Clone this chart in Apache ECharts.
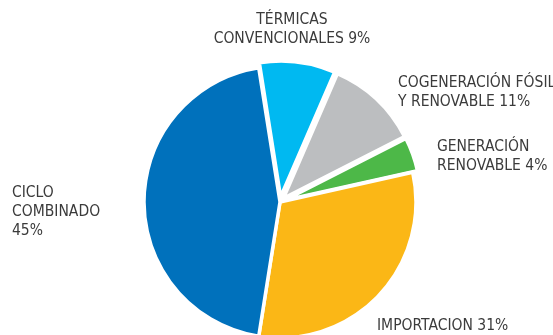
<!DOCTYPE html>
<html><head><meta charset="utf-8">
<script src="https://cdn.jsdelivr.net/npm/echarts@6/dist/echarts.min.js"></script>
<style>html,body{margin:0;padding:0;background:#fff}#c{width:553px;height:335px}</style>
</head><body><div id="c"></div>
<script>
const categories = ['TÉRMICAS\nCONVENCIONALES', 'COGENERACIÓN FÓSIL\nY RENOVABLE', 'GENERACIÓN\nRENOVABLE', 'IMPORTACION', 'CICLO\nCOMBINADO'];
const values = [9, 11, 4, 31, 45];
const colors = ['#00B9F1', '#BCBEC0', '#4DB848', '#FBB716', '#0071BC'];
const exploded = [true, true, true, false, false];
const labelSep = [' ', ' ', ' ', ' ', '\n'];
const labelPos = [
  {x: 292, y: 10, align: 'center'},
  {x: 398, y: 73, align: 'left'},
  {x: 437, y: 137, align: 'left'},
  {x: 377, y: 316, align: 'left'},
  {x: 12, y: 183, align: 'left'}
];
const base = {
  type: 'pie',
  center: [280, 202],
  radius: 136,
  startAngle: 99,
  clockwise: true,
  emphasis: {disabled: true},
  labelLine: {show: false}
};
const chart = echarts.init(document.getElementById('c'));
chart.setOption({
  animation: false,
  series: [
    Object.assign({}, base, {
      selectedMode: 'multiple',
      selectedOffset: 5,
      data: categories.map((n, i) => ({
        name: n, value: values[i], selected: exploded[i],
        itemStyle: {color: colors[i]},
        select: {itemStyle: {color: colors[i], borderColor: '#fff', borderWidth: 3.5}}
      })),
      itemStyle: {borderColor: '#fff', borderWidth: 3.5},
      label: {show: false}
    }),
    Object.assign({}, base, {
      silent: true,
      z: 3,
      data: categories.map((n, i) => ({name: n, value: values[i]})),
      itemStyle: {color: 'rgba(0,0,0,0)', borderWidth: 0},
      label: {
        show: true,
        position: 'outside',
        alignTo: 'none',
        overflow: 'none',
        width: 300,
        formatter: p => p.name + labelSep[p.dataIndex] + p.value + '%',
        fontFamily: '"Liberation Sans Narrow", "DejaVu Sans Condensed", sans-serif',
        fontSize: 15.5,
        lineHeight: 19,
        color: '#3b3b3b'
      },
      labelLayout: p => Object.assign({verticalAlign: 'top'}, labelPos[p.dataIndex])
    })
  ]
});
</script></body></html>
